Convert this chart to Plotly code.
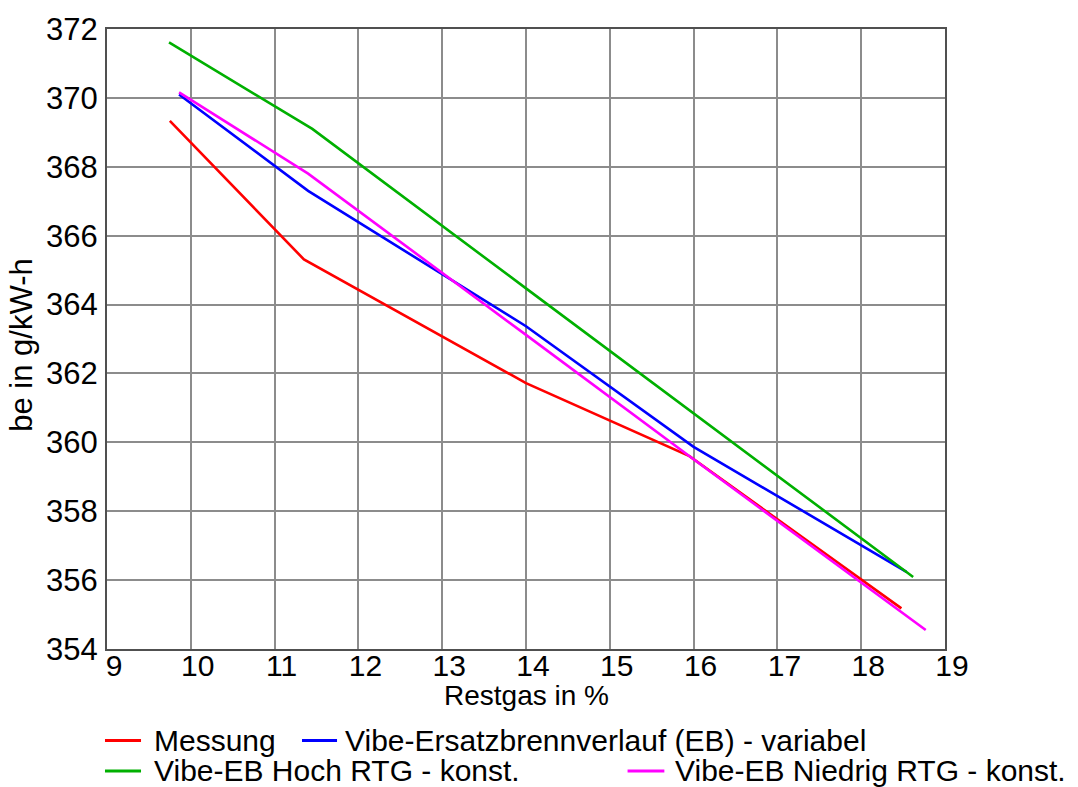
import plotly.graph_objects as go

# Restgas (%) vs. specific fuel consumption be (g/kWh)
x_messung = [9.75, 11.35, 14.0, 15.95, 18.48]
y_messung = [369.33, 365.31, 361.72, 359.6, 355.18]

x_variabel = [9.86, 11.4, 14.0, 16.0, 18.54]
y_variabel = [370.1, 367.3, 363.37, 359.87, 356.24]

x_hoch = [9.74, 11.45, 14.0, 16.0, 18.62]
y_hoch = [371.61, 369.1, 364.47, 360.84, 356.09]

x_niedrig = [9.86, 11.4, 14.0, 16.0, 18.77]
y_niedrig = [370.16, 367.8, 363.12, 359.51, 354.55]

series_names = [
    "Messung",
    "Vibe-Ersatzbrennverlauf (EB) - variabel",
    "Vibe-EB Hoch RTG - konst.",
    "Vibe-EB Niedrig RTG - konst.",
]
series_colors = ["#ff0000", "#0000ff", "#00b000", "#ff00ff"]

x_ticks = list(range(9, 20))
y_ticks = list(range(354, 373, 2))

FONT = "Arial, Liberation Sans, sans-serif"

fig = go.Figure()
data = [
    (x_messung, y_messung),
    (x_variabel, y_variabel),
    (x_hoch, y_hoch),
    (x_niedrig, y_niedrig),
]
for (xs, ys), name, color in zip(data, series_names, series_colors):
    fig.add_trace(go.Scatter(
        x=xs, y=ys, mode="lines", name=name,
        line=dict(color=color, width=2.6),
        showlegend=False,
    ))

# Hand-placed legend below the plot: two rows, line sample + label
legend_items = [
    # (line x0, line x1, text x, y) in paper coordinates
    (-0.0024, 0.0406, 0.0537, -0.1477),
    (0.2327, 0.2745, 0.2820, -0.1477),
    (-0.0024, 0.0406, 0.0537, -0.1966),
    (0.6212, 0.6651, 0.6750, -0.1966),
]
for (x0, x1, xt, y), name, color in zip(legend_items, series_names, series_colors):
    fig.add_shape(type="line", xref="paper", yref="paper",
                  x0=x0, x1=x1, y0=y, y1=y,
                  line=dict(color=color, width=3))
    fig.add_annotation(xref="paper", yref="paper", x=xt, y=y,
                       text=name, showarrow=False,
                       xanchor="left", yanchor="middle",
                       font=dict(family=FONT, size=30, color="#000000"))

# Axis titles
fig.add_annotation(xref="paper", yref="paper", x=0.5, y=-0.0745,
                   text="Restgas in %", showarrow=False,
                   xanchor="center", yanchor="middle",
                   font=dict(family=FONT, size=28, color="#000000"))
fig.add_annotation(xref="paper", yref="paper", x=-0.102, y=0.49,
                   text="be in g/kW-h", showarrow=False, textangle=-90,
                   xanchor="center", yanchor="middle",
                   font=dict(family=FONT, size=31, color="#000000"))

axis_common = dict(
    showgrid=True, gridcolor="#8c8c8c", gridwidth=2,
    showline=True, linecolor="#505050", linewidth=2, mirror=True,
    zeroline=False, ticks="",
)

fig.update_xaxes(
    range=[9, 19], tickvals=x_ticks, ticktext=[str(v) for v in x_ticks],
    ticklabelshift=7, ticklabelstandoff=-11,
    tickfont=dict(family=FONT, size=30, color="#000000"),
    **axis_common,
)
fig.update_yaxes(
    range=[354, 372], tickvals=y_ticks, ticktext=[str(v) for v in y_ticks],
    ticklabelstandoff=1,
    tickfont=dict(family=FONT, size=31, color="#000000"),
    **axis_common,
)

fig.update_layout(
    width=1078, height=787,
    margin=dict(l=107, r=133, t=26, b=138),
    paper_bgcolor="#ffffff", plot_bgcolor="#ffffff",
)

fig.write_html("out.html")
